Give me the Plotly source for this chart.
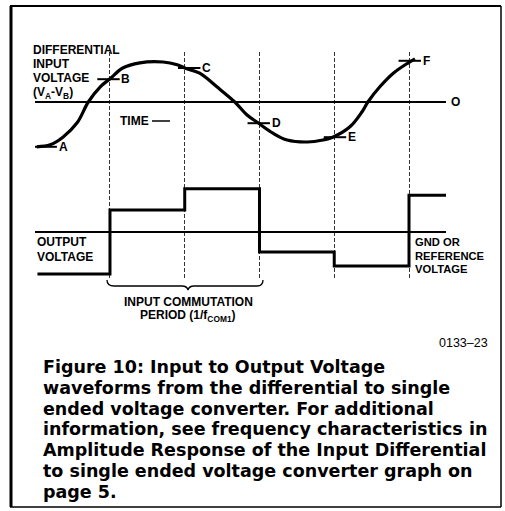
import plotly.graph_objects as go

# ---------------- data ----------------
# time in units of the input commutation period (vertical lines at 0..4)
input_t = [-0.98, -0.80, -0.63, -0.44, -0.29, -0.13, 0.0, 0.17, 0.40, 0.71, 0.90,
           1.0, 1.20, 1.43, 1.67, 1.83, 1.98, 2.18, 2.37, 2.64, 2.85, 2.98, 3.21,
           3.37, 3.45, 3.61, 3.79, 3.99, 4.08]
input_v = [-1.12, -1.07, -0.88, -0.52, 0.0, 0.38, 0.58, 0.85, 0.98, 1.0, 0.93,
           0.85, 0.72, 0.38, 0.0, -0.32, -0.52, -0.78, -0.95, -1.0, -0.95, -0.88,
           -0.62, -0.25, 0.0, 0.38, 0.72, 0.98, 1.08]

output_t = [-0.97, 0, 1, 2, 3, 4, 4.5]
output_v = [-1.05, 0.55, 1.08, -0.50, -0.85, 0.92, 0.92]

point_labels = ["A", "B", "C", "D", "E", "F"]
point_t = [-0.86, -0.02, 1.06, 1.99, 3.01, 4.01]
point_v = [-1.12, 0.57, 0.85, -0.53, -0.88, 1.03]

period_ticks = [0, 1, 2, 3, 4]

caption_lines = [
    "Figure 10: Input to Output Voltage",
    "waveforms from the differential to single",
    "ended voltage converter. For additional",
    "information, see frequency characteristics in",
    "Amplitude Response of the Input Differential",
    "to single ended voltage converter graph on",
    "page 5.",
]

# ---------------- layout helpers ----------------
W, H = 505, 511
FONT = "Liberation Sans, Arial, Helvetica, sans-serif"
CAP_FONT = "DejaVu Sans, Liberation Sans, sans-serif"


def px(x):
    return x / W


def py(y):
    return 1 - y / H


fig = go.Figure()

fig.add_trace(go.Scatter(x=input_t, y=input_v, mode="lines",
                         line=dict(color="black", width=3.2, shape="spline", smoothing=1.0),
                         hoverinfo="skip", showlegend=False, yaxis="y"))

fig.add_trace(go.Scatter(x=point_t, y=point_v, mode="markers",
                         marker=dict(symbol="line-ew-open", size=16, color="black",
                                     line=dict(color="black", width=2)),
                         hoverinfo="skip", showlegend=False, yaxis="y"))

fig.add_trace(go.Scatter(x=output_t, y=output_v, mode="lines",
                         line=dict(color="black", width=3, shape="hv"),
                         hoverinfo="skip", showlegend=False, yaxis="y2"))

annotations = []
for lab, t, v in zip(point_labels, point_t, point_v):
    annotations.append(dict(x=t, y=v, xref="x", yref="y", text="<b>%s</b>" % lab,
                            showarrow=False, xanchor="left", yanchor="middle",
                            xshift=11, font=dict(size=12, color="black", family=FONT)))


def note(x, y, text, size=12, xanchor="left", bold=True, family=FONT):
    annotations.append(dict(x=px(x), y=py(y), xref="paper", yref="paper",
                            text=("<b>%s</b>" % text) if bold else text,
                            showarrow=False, xanchor=xanchor, yanchor="middle",
                            borderpad=0,
                            font=dict(size=size, color="black", family=family)))


def lines(x, y0, pitch, items, **kw):
    for i, s in enumerate(items):
        note(x, y0 + i * pitch, s, **kw)


lines(32, 50, 14.2, ["DIFFERENTIAL", "INPUT", "VOLTAGE",
                     "(V<sub>A</sub>-V<sub>B</sub>)"])
note(455, 102, "O", xanchor="center")
note(119, 121, "TIME")
lines(36, 242, 14.5, ["OUTPUT", "VOLTAGE"])
lines(414, 242, 13.5, ["GND OR", "REFERENCE", "VOLTAGE"], size=11.2)
lines(188, 302, 13.5, ["INPUT COMMUTATION", "PERIOD (1/f<sub>COM1</sub>)"],
      size=12, xanchor="center")
note(489, 343, "0133\u201323", size=12.5, xanchor="right", bold=False)
lines(42, 367, 20.8, caption_lines, size=17.5, family=CAP_FONT)

frame_line = dict(color="black", width=2)
shapes = [
    # frame
    dict(type="line", xref="paper", yref="paper", x0=px(10), x1=px(501), y0=py(6), y1=py(6),
         line=frame_line),
    dict(type="line", xref="paper", yref="paper", x0=px(10), x1=px(501), y0=py(507), y1=py(507),
         line=dict(color="black", width=1.5)),
    dict(type="line", xref="paper", yref="paper", x0=px(11), x1=px(11), y0=py(507), y1=py(6),
         line=dict(color="black", width=3)),
    dict(type="line", xref="paper", yref="paper", x0=px(501), x1=px(501), y0=py(507), y1=py(6),
         line=dict(color="black", width=1.5)),
    # TIME arrow dash
    dict(type="line", xref="paper", yref="paper", x0=px(152), x1=px(170), y0=py(121), y1=py(121),
         line=dict(color="black", width=1.5)),
    # brace under commutation period
    dict(type="path", xref="paper", yref="paper",
         path="M %f,%f Q %f,%f %f,%f L %f,%f Q %f,%f %f,%f Q %f,%f %f,%f L %f,%f Q %f,%f %f,%f" % (
             px(107), py(280), px(107), py(286), px(114), py(286),
             px(182), py(286), px(187), py(286), px(188), py(290),
             px(189), py(286), px(194), py(286),
             px(257), py(286), px(263), py(286), px(263), py(280)),
         line=dict(color="black", width=1.3)),
]

fig.update_layout(
    width=W, height=H, autosize=False,
    margin=dict(l=0, r=0, t=0, b=0),
    paper_bgcolor="white", plot_bgcolor="white",
    showlegend=False,
    xaxis=dict(domain=[px(35), px(446)], range=[-1.003, 4.495],
               tickvals=period_ticks, showticklabels=False, ticks="",
               showgrid=True, gridcolor="#333333", gridwidth=1, griddash="4px,2px",
               zeroline=False, showline=False, fixedrange=True),
    yaxis=dict(domain=[py(280), py(52)], range=[-4.45, 1.25],
               showgrid=False, showticklabels=False, ticks="",
               zeroline=True, zerolinecolor="black", zerolinewidth=1.5,
               showline=False, fixedrange=True),
    yaxis2=dict(domain=[py(280), py(52)], range=[-1.2, 4.5], overlaying="y",
                showgrid=False, showticklabels=False, ticks="",
                zeroline=True, zerolinecolor="black", zerolinewidth=1.5,
                showline=False, fixedrange=True),
    annotations=annotations,
    shapes=shapes,
)

fig.write_html("out.html", config={"displayModeBar": False},
               post_script="document.body.style.margin='0';document.body.style.overflow='hidden';")
